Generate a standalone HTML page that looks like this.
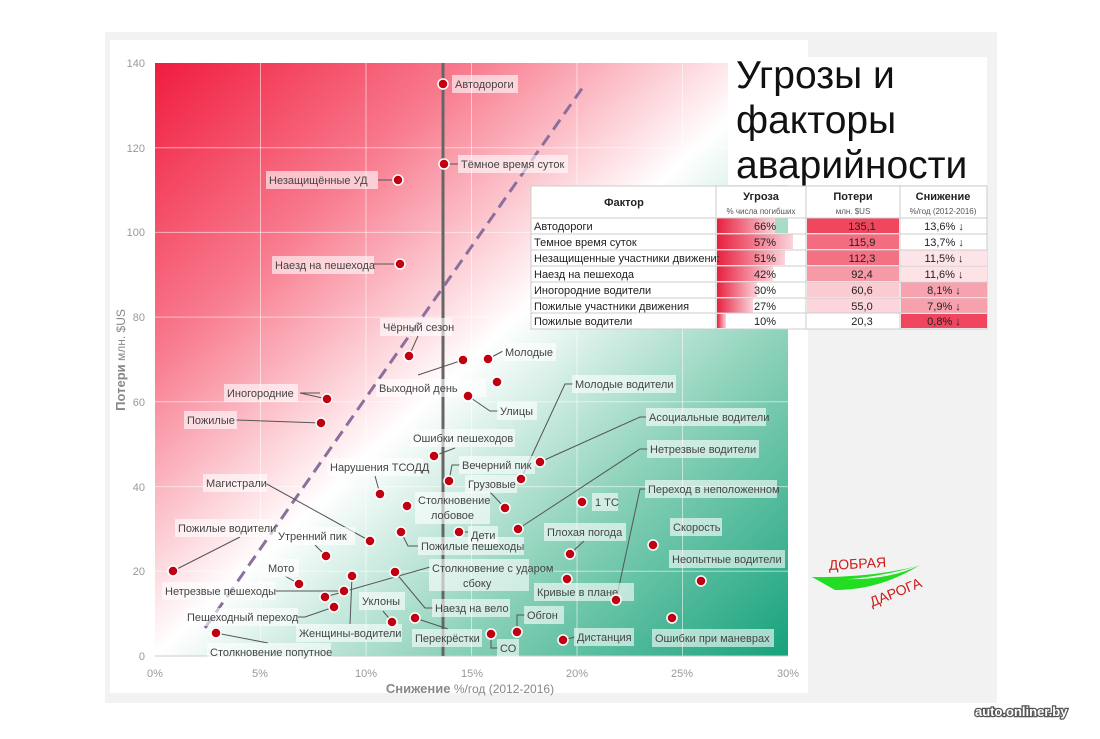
<!DOCTYPE html>
<html><head><meta charset="utf-8"><style>
body{margin:0;background:#fff;width:1100px;height:734px;overflow:hidden;font-family:"Liberation Sans","DejaVu Sans",sans-serif}
svg text{font-family:"Liberation Sans","DejaVu Sans",sans-serif}
</style></head><body>
<svg width="1100" height="734" viewBox="0 0 1100 734" xmlns="http://www.w3.org/2000/svg">
<defs>
<linearGradient id="bg" x1="0" y1="0" x2="1" y2="1">
<stop offset="0" stop-color="#f01c3e"/>
<stop offset="0.25" stop-color="#f87b8e"/>
<stop offset="0.5" stop-color="#ffffff"/>
<stop offset="0.72" stop-color="#8fd3bb"/>
<stop offset="1" stop-color="#16a27c"/>
</linearGradient>
<linearGradient id="bar" x1="0" y1="0" x2="1" y2="0">
<stop offset="0" stop-color="#e8203f"/><stop offset="1" stop-color="#fbd3da"/>
</linearGradient>
</defs>
<rect x="105" y="32" width="892" height="671" fill="#f2f2f2"/>
<rect x="110" y="40" width="698" height="653" fill="#fff"/>
<rect x="155" y="63" width="633" height="593" fill="url(#bg)"/>
<g stroke="#fff" stroke-opacity="0.55" stroke-width="1">
<line x1="260.5" y1="63" x2="260.5" y2="656"/><line x1="366" y1="63" x2="366" y2="656"/><line x1="471.5" y1="63" x2="471.5" y2="656"/><line x1="577" y1="63" x2="577" y2="656"/><line x1="682.5" y1="63" x2="682.5" y2="656"/>
<line x1="155" y1="147.7" x2="788" y2="147.7"/><line x1="155" y1="232.4" x2="788" y2="232.4"/><line x1="155" y1="317.1" x2="788" y2="317.1"/><line x1="155" y1="401.8" x2="788" y2="401.8"/><line x1="155" y1="486.6" x2="788" y2="486.6"/><line x1="155" y1="571.3" x2="788" y2="571.3"/>
</g>
<line x1="155" y1="656" x2="788" y2="656" stroke="#ccc"/>
<g fill="#999" font-size="11" text-anchor="end">
<text x="145" y="67">140</text><text x="145" y="152">120</text><text x="145" y="236">100</text><text x="145" y="321">80</text><text x="145" y="406">60</text><text x="145" y="491">40</text><text x="145" y="575">20</text><text x="145" y="660">0</text>
</g>
<g fill="#999" font-size="11" text-anchor="middle">
<text x="155" y="677">0%</text><text x="260" y="677">5%</text><text x="366" y="677">10%</text><text x="472" y="677">15%</text><text x="577" y="677">20%</text><text x="682" y="677">25%</text><text x="788" y="677">30%</text>
</g>
<text x="470" y="693" text-anchor="middle" fill="#888" font-size="12"><tspan font-weight="bold" font-size="13">Снижение</tspan> %/год (2012-2016)</text>
<text transform="translate(125,360) rotate(-90)" text-anchor="middle" fill="#888" font-size="12"><tspan font-weight="bold" font-size="13">Потери</tspan> млн. $US</text>
<line x1="443" y1="63" x2="443" y2="656" stroke="#666" stroke-width="3"/>
<line x1="205" y1="628" x2="583" y2="87" stroke="#8b6f9c" stroke-width="3" stroke-dasharray="12,7"/>
<!-- leaders -->
<g stroke="#555" stroke-width="1" fill="none">
<path d="M444,164 H458"/><path d="M398,180 H378"/><path d="M400,264 H374"/>
<path d="M409,356 L418,336"/><path d="M463,360 L418,375"/><path d="M488,359 L503,351"/><path d="M468,396 L490,411 H498"/>
<path d="M327,399 L300,393 H320"/><path d="M321,423 L236,420"/><path d="M434,456 L455,448"/>
<path d="M540,462 L640,417 H646"/><path d="M521,479 L565,384 H573"/><path d="M449,481 L452,465 H460"/>
<path d="M380,494 L375,476"/><path d="M505,508 L490,492"/><path d="M518,529 L640,449 H648"/>
<path d="M401,532 L408,546 H418"/><path d="M459,532 H468"/><path d="M370,541 L265,483"/><path d="M326,556 L315,545"/>
<path d="M570,554 L584,541"/><path d="M173,571 L240,537"/><path d="M299,584 L285,576"/><path d="M395,572 L425,608 H433"/>
<path d="M344,591 L275,591"/><path d="M334,607 L305,617 H297"/><path d="M616,600 L640,489 H646"/>
<path d="M392,622 L383,611"/><path d="M415,618 L448,629"/><path d="M491,634 V648 H498"/><path d="M517,632 V615 H525"/>
<path d="M563,640 L575,637"/><path d="M216,633 L268,643"/><path d="M352,576 L350,624"/><path d="M325,597 L430,567"/>
</g>
<!-- labels -->
<g font-size="11" fill="#444">
<g fill="#fff" fill-opacity="0.6">
<rect x="452" y="75" width="66" height="18"/><rect x="458" y="155" width="110" height="18"/><rect x="266" y="171" width="112" height="18"/>
<rect x="272" y="256" width="102" height="18"/><rect x="380" y="318" width="72" height="18"/><rect x="376" y="379" width="110" height="18"/>
<rect x="502" y="343" width="54" height="18"/><rect x="497" y="402" width="40" height="18"/><rect x="224" y="384" width="74" height="18"/>
<rect x="184" y="411" width="53" height="18"/><rect x="410" y="429" width="105" height="18"/><rect x="646" y="408" width="120" height="18"/>
<rect x="572" y="375" width="104" height="18"/><rect x="459" y="456" width="76" height="18"/><rect x="327" y="458" width="96" height="18"/>
<rect x="415" y="492" width="75" height="32"/><rect x="465" y="475" width="52" height="18"/><rect x="592" y="493" width="26" height="18"/>
<rect x="647" y="440" width="112" height="18"/><rect x="418" y="537" width="106" height="18"/><rect x="468" y="526" width="30" height="18"/>
<rect x="203" y="474" width="64" height="18"/><rect x="275" y="527" width="80" height="18"/><rect x="670" y="518" width="52" height="18"/>
<rect x="544" y="523" width="82" height="18"/><rect x="175" y="519" width="100" height="18"/><rect x="265" y="559" width="34" height="18"/>
<rect x="432" y="599" width="78" height="18"/><rect x="534" y="583" width="100" height="18"/><rect x="669" y="550" width="116" height="18"/>
<rect x="162" y="582" width="114" height="18"/><rect x="184" y="608" width="114" height="18"/><rect x="645" y="480" width="132" height="18"/>
<rect x="359" y="592" width="46" height="18"/><rect x="412" y="629" width="70" height="18"/><rect x="497" y="639" width="22" height="18"/>
<rect x="524" y="606" width="40" height="18"/><rect x="574" y="628" width="60" height="18"/><rect x="652" y="629" width="122" height="18"/>
<rect x="207" y="643" width="124" height="18"/><rect x="429" y="559" width="100" height="32"/><rect x="296" y="624" width="106" height="18"/>
</g>
<text x="455" y="88">Автодороги</text><text x="461" y="168">Тёмное время суток</text><text x="269" y="184">Незащищённые УД</text>
<text x="275" y="269">Наезд на пешехода</text><text x="383" y="331">Чёрный сезон</text><text x="379" y="392">Выходной день</text>
<text x="505" y="356">Молодые</text><text x="500" y="415">Улицы</text><text x="227" y="397">Иногородние</text>
<text x="187" y="424">Пожилые</text><text x="413" y="442">Ошибки пешеходов</text><text x="649" y="421">Асоциальные водители</text>
<text x="575" y="388">Молодые водители</text><text x="462" y="469">Вечерний пик</text><text x="330" y="471">Нарушения ТСОДД</text>
<text x="418" y="504">Столкновение</text><text x="431" y="519">лобовое</text><text x="468" y="488">Грузовые</text><text x="595" y="506">1 ТС</text>
<text x="650" y="453">Нетрезвые водители</text><text x="421" y="550">Пожилые пешеходы</text><text x="471" y="539">Дети</text>
<text x="206" y="487">Магистрали</text><text x="278" y="540">Утренний пик</text><text x="673" y="531">Скорость</text>
<text x="547" y="536">Плохая погода</text><text x="178" y="532">Пожилые водители</text><text x="268" y="572">Мото</text>
<text x="435" y="612">Наезд на вело</text><text x="537" y="596">Кривые в плане</text><text x="672" y="563">Неопытные водители</text>
<text x="165" y="595">Нетрезвые пешеходы</text><text x="187" y="621">Пешеходный переход</text><text x="648" y="493">Переход в неположенном</text>
<text x="362" y="605">Уклоны</text><text x="415" y="642">Перекрёстки</text><text x="500" y="652">СО</text>
<text x="527" y="619">Обгон</text><text x="577" y="641">Дистанция</text><text x="655" y="642">Ошибки при маневрах</text>
<text x="210" y="656">Столкновение попутное</text><text x="432" y="572">Столкновение с ударом</text><text x="463" y="587">сбоку</text>
<text x="299" y="637">Женщины-водители</text>
</g>
<!-- points -->
<g fill="#c00010" stroke="#fff" stroke-width="1.5">
<circle cx="443" cy="84" r="5"/><circle cx="444" cy="164" r="5"/><circle cx="398" cy="180" r="5"/><circle cx="400" cy="264" r="5"/>
<circle cx="409" cy="356" r="5"/><circle cx="463" cy="360" r="5"/><circle cx="488" cy="359" r="5"/><circle cx="497" cy="382" r="5"/>
<circle cx="468" cy="396" r="5"/><circle cx="327" cy="399" r="5"/><circle cx="321" cy="423" r="5"/><circle cx="434" cy="456" r="5"/>
<circle cx="540" cy="462" r="5"/><circle cx="521" cy="479" r="5"/><circle cx="449" cy="481" r="5"/><circle cx="380" cy="494" r="5"/>
<circle cx="407" cy="506" r="5"/><circle cx="505" cy="508" r="5"/><circle cx="582" cy="502" r="5"/><circle cx="518" cy="529" r="5"/>
<circle cx="401" cy="532" r="5"/><circle cx="459" cy="532" r="5"/><circle cx="370" cy="541" r="5"/><circle cx="326" cy="556" r="5"/>
<circle cx="653" cy="545" r="5"/><circle cx="570" cy="554" r="5"/><circle cx="173" cy="571" r="5"/><circle cx="352" cy="576" r="5"/>
<circle cx="299" cy="584" r="5"/><circle cx="395" cy="572" r="5"/><circle cx="567" cy="579" r="5"/><circle cx="701" cy="581" r="5"/>
<circle cx="344" cy="591" r="5"/><circle cx="325" cy="597" r="5"/><circle cx="334" cy="607" r="5"/><circle cx="616" cy="600" r="5"/>
<circle cx="392" cy="622" r="5"/><circle cx="415" cy="618" r="5"/><circle cx="491" cy="634" r="5"/><circle cx="517" cy="632" r="5"/>
<circle cx="563" cy="640" r="5"/><circle cx="672" cy="618" r="5"/><circle cx="216" cy="633" r="5"/>
</g>
<!-- title -->
<rect x="728" y="57" width="259" height="128" fill="#fff"/>
<g font-size="39" fill="#111"><text x="736" y="88">Угрозы и</text><text x="736" y="133">факторы</text><text x="736" y="178">аварийности</text></g>
<!-- table -->
<g font-size="11">
<rect x="531" y="186" width="456" height="143" fill="#fff" stroke="#ccc"/>
<rect x="717" y="218" width="58" height="15" fill="url(#bar)"/><rect x="775" y="218" width="13" height="15" fill="#a8dcc8"/>
<rect x="717" y="234" width="76" height="15" fill="url(#bar)"/>
<rect x="717" y="250" width="68" height="15" fill="url(#bar)"/>
<rect x="717" y="266" width="56" height="15" fill="url(#bar)"/>
<rect x="717" y="282" width="40" height="15" fill="url(#bar)"/>
<rect x="717" y="298" width="36" height="15" fill="url(#bar)"/>
<rect x="717" y="314" width="9" height="14" fill="url(#bar)"/>
<rect x="807" y="218" width="92" height="15" fill="#f0475f"/><rect x="807" y="234" width="92" height="15" fill="#f36c7f"/>
<rect x="807" y="250" width="92" height="15" fill="#f37183"/><rect x="807" y="266" width="92" height="15" fill="#f69aa7"/>
<rect x="807" y="282" width="92" height="15" fill="#fbcbd2"/><rect x="807" y="298" width="92" height="15" fill="#fcd6dc"/>
<rect x="901" y="250" width="86" height="15" fill="#fde4e8"/><rect x="901" y="266" width="86" height="15" fill="#fde2e6"/>
<rect x="901" y="282" width="86" height="15" fill="#f7a3af"/><rect x="901" y="298" width="86" height="15" fill="#f7a1ad"/>
<rect x="901" y="314" width="86" height="14" fill="#f0455e"/>
<g stroke="#ccc"><line x1="531" y1="218" x2="987" y2="218"/><line x1="531" y1="234" x2="987" y2="234"/><line x1="531" y1="250" x2="987" y2="250"/><line x1="531" y1="266" x2="987" y2="266"/><line x1="531" y1="282" x2="987" y2="282"/><line x1="531" y1="298" x2="987" y2="298"/><line x1="531" y1="313" x2="987" y2="313"/>
<line x1="716" y1="186" x2="716" y2="329"/><line x1="806" y1="186" x2="806" y2="329"/><line x1="900" y1="186" x2="900" y2="329"/></g>
<g font-weight="bold" text-anchor="middle" fill="#222"><text x="624" y="206">Фактор</text><text x="761" y="200">Угроза</text><text x="853" y="200">Потери</text><text x="943" y="200">Снижение</text></g>
<g font-size="8" text-anchor="middle" fill="#555"><text x="761" y="214">% числа погибших</text><text x="853" y="214">млн. $US</text><text x="943" y="214">%/год (2012-2016)</text></g>
<g fill="#222"><text x="534" y="230">Автодороги</text><text x="534" y="246">Темное время суток</text><text x="534" y="262">Незащищенные участники движени:</text><text x="534" y="278">Наезд на пешехода</text><text x="534" y="294">Иногородние водители</text><text x="534" y="310">Пожилые участники движения</text><text x="534" y="325">Пожилые водители</text></g>
<g text-anchor="middle" fill="#222"><text x="765" y="230">66%</text><text x="765" y="246">57%</text><text x="765" y="262">51%</text><text x="765" y="278">42%</text><text x="765" y="294">30%</text><text x="765" y="310">27%</text><text x="765" y="325">10%</text>
<text x="862" y="230">135,1</text><text x="862" y="246">115,9</text><text x="862" y="262">112,3</text><text x="862" y="278">92,4</text><text x="862" y="294">60,6</text><text x="862" y="310">55,0</text><text x="862" y="325">20,3</text>
<text x="944" y="230">13,6% ↓</text><text x="944" y="246">13,7% ↓</text><text x="944" y="262">11,5% ↓</text><text x="944" y="278">11,6% ↓</text><text x="944" y="294">8,1% ↓</text><text x="944" y="310">7,9% ↓</text><text x="944" y="325">0,8% ↓</text></g>
</g>
<!-- logo -->
<path d="M812,577 Q880,585 920,565 Q880,590 835,590 Z" fill="#22dd22"/>
<path d="M812,577 Q870,578 918,566 Q870,580 820,581 Z" fill="#22dd22"/>
<text x="829" y="570" font-size="14" fill="#d01818" transform="rotate(-3 829 570)">ДОБРАЯ</text>
<text x="872" y="607" font-size="14" fill="#d01818" transform="rotate(-22 872 607)">ДАРОГА</text>
<text x="975" y="716" font-size="13" font-weight="bold" fill="#fff" stroke="#555" stroke-width="2.5" paint-order="stroke">auto.onliner.by</text>
</svg>
</body></html>
